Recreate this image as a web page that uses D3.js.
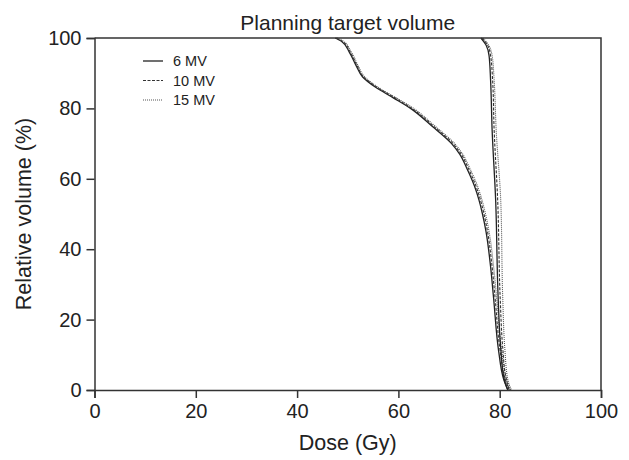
<!DOCTYPE html>
<html>
<head>
<meta charset="utf-8">
<script src="https://cdn.jsdelivr.net/npm/d3@7"></script>
<style>
  body { margin: 0; background: #fff; }
  text { font-family: "Liberation Sans", Arial, sans-serif; fill: #222; }
</style>
</head>
<body>
<svg id="chart" width="629" height="460"></svg>
<script>
var svg = d3.select("#chart"),
  width = +svg.attr("width"),
  height = +svg.attr("height");

// Data: volume levels (%) and dose (Gy)
var volA = [100, 99, 96, 92, 89, 86, 83, 80, 75, 70, 67, 63, 58, 54, 50, 45, 35, 26, 11, 3, 0];
var doseA6  = [47.5, 48.8, 50.3, 51.7, 52.9, 55.5, 59.0, 62.4, 66.6, 70.5, 72.1, 73.5, 75.0, 75.9, 76.6, 77.3, 78.2, 78.8, 79.8, 80.8, 81.6];
var doseA10 = [47.7, 49.0, 50.5, 51.9, 53.1, 55.8, 59.3, 62.7, 66.9, 70.8, 72.4, 73.8, 75.3, 76.2, 76.9, 77.6, 78.5, 79.1, 80.1, 81.1, 81.9];
var doseA15 = [47.9, 49.2, 50.7, 52.1, 53.3, 56.0, 59.6, 63.0, 67.2, 71.1, 72.7, 74.1, 75.6, 76.5, 77.2, 77.9, 78.8, 79.4, 80.4, 81.4, 82.2];

var volB = [100, 98, 95, 88, 74, 54, 26, 12, 3, 0];
var doseB6  = [76.3, 77.3, 77.9, 78.2, 78.5, 79.2, 79.7, 80.2, 80.9, 81.6];
var doseB10 = [76.5, 77.6, 78.2, 78.6, 78.9, 79.6, 80.1, 80.6, 81.3, 81.9];
var doseB15 = [76.7, 77.8, 78.5, 78.9, 79.3, 80.2, 80.6, 81.0, 81.6, 82.3];

var legendLabels = ["6 MV", "10 MV", "15 MV"];
var xTicks = [0, 20, 40, 60, 80, 100];
var yTicks = [0, 20, 40, 60, 80, 100];

var margin = {left: 94.5, right: 28, top: 38, bottom: 70};

var x = d3.scaleLinear().domain([0, 100]).range([margin.left, width - margin.right]);
var y = d3.scaleLinear().domain([0, 100]).range([height - margin.bottom, margin.top]);

var styles = [
  {dash: null, width: 1.3, color: "#222"},
  {dash: "3,1.5", width: 1.1, color: "#333"},
  {dash: "1,1", width: 1.1, color: "#555"}
];

function pairs(doses, vols) {
  return doses.map(function(d, i) { return [d, vols[i]]; });
}

// dose is a function of volume, so smooth monotone in y
var line = d3.line()
  .x(function(d) { return x(d[0]); })
  .y(function(d) { return y(d[1]); })
  .curve(d3.curveMonotoneY);

var series = [
  {pts: pairs(doseA6, volA), s: 0}, {pts: pairs(doseA10, volA), s: 1}, {pts: pairs(doseA15, volA), s: 2},
  {pts: pairs(doseB6, volB), s: 0}, {pts: pairs(doseB10, volB), s: 1}, {pts: pairs(doseB15, volB), s: 2}
];

svg.append("g")
  .selectAll("path")
  .data(series)
  .enter().append("path")
  .attr("d", function(d) { return line(d.pts); })
  .attr("fill", "none")
  .attr("stroke", function(d) { return styles[d.s].color; })
  .attr("stroke-width", function(d) { return styles[d.s].width; })
  .attr("stroke-dasharray", function(d) { return styles[d.s].dash; });

// frame (top and right sides)
svg.append("path")
  .attr("d", "M" + x(0) + "," + y(100) + "H" + x(100) + "V" + y(0))
  .attr("fill", "none")
  .attr("stroke", "#333")
  .attr("stroke-width", 1.5);

// axes
var xAxis = svg.append("g")
  .attr("transform", "translate(0," + y(0) + ")")
  .call(d3.axisBottom(x).tickValues(xTicks).tickSize(8).tickPadding(6));
var yAxis = svg.append("g")
  .attr("transform", "translate(" + x(0) + ",0)")
  .call(d3.axisLeft(y).tickValues(yTicks).tickSize(8).tickPadding(5));

[xAxis, yAxis].forEach(function(a) {
  a.select(".domain").attr("stroke", "#333").attr("stroke-width", 1.5);
  a.selectAll(".tick line").attr("stroke", "#333").attr("stroke-width", 1.5);
  a.selectAll(".tick text")
    .style("font-family", "'Liberation Sans', Arial, sans-serif")
    .style("font-size", "20px")
    .attr("fill", "#222");
});

// title and axis labels
svg.append("text")
  .attr("x", (x(0) + x(100)) / 2)
  .attr("y", 30)
  .attr("text-anchor", "middle")
  .style("font-size", "21px")
  .text("Planning target volume");

svg.append("text")
  .attr("x", (x(0) + x(100)) / 2)
  .attr("y", 450)
  .attr("text-anchor", "middle")
  .style("font-size", "21.5px")
  .text("Dose (Gy)");

svg.append("text")
  .attr("transform", "translate(31," + ((y(0) + y(100)) / 2) + ") rotate(-90)")
  .attr("text-anchor", "middle")
  .style("font-size", "21.5px")
  .text("Relative volume (%)");

// legend
var legend = svg.append("g").selectAll("g")
  .data(legendLabels)
  .enter().append("g")
  .attr("transform", function(d, i) { return "translate(143," + (61 + i * 19.5) + ")"; });

legend.append("line")
  .attr("x1", 0).attr("x2", 20)
  .attr("stroke", function(d, i) { return styles[i].color; })
  .attr("stroke-width", function(d, i) { return styles[i].width; })
  .attr("stroke-dasharray", function(d, i) { return styles[i].dash; });

legend.append("text")
  .attr("x", 30)
  .attr("dy", "0.35em")
  .style("font-size", "14.5px")
  .text(function(d) { return d; });
</script>
</body>
</html>
